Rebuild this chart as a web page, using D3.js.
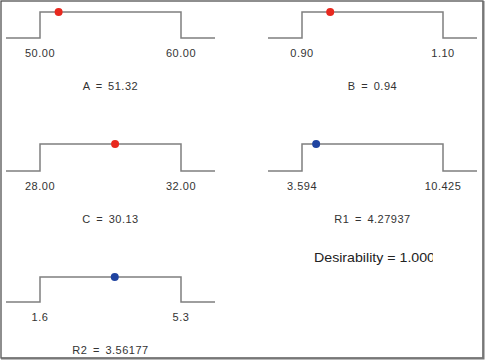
<!DOCTYPE html>
<html>
<head>
<meta charset="utf-8">
<script src="https://cdn.jsdelivr.net/npm/d3@7"></script>
<style>
  body { margin: 0; background: #fff; }
  text { font-family: "Liberation Sans", Arial, sans-serif; fill: #333; }
  .lbl { font-size: 11px; letter-spacing: 0.5px; }
</style>
</head>
<body>
<div id="chart"></div>
<script>
// ramps data (factor/response ranges and optimum values)
var names = ["A", "B", "C", "R1", "R2"];
var lows = [50, 0.90, 28, 3.594, 1.6];
var highs = [60, 1.10, 32, 10.425, 5.3];
var lowLabels = ["50.00", "0.90", "28.00", "3.594", "1.6"];
var highLabels = ["60.00", "1.10", "32.00", "10.425", "5.3"];
var values = [51.32, 0.94, 30.13, 4.27937, 3.56177];
var valueLabels = ["51.32", "0.94", "30.13", "4.27937", "3.56177"];
var kinds = ["factor", "factor", "factor", "response", "response"];
var desirability = "1.000";

var width = 485, height = 360;

var svg = d3.select("#chart")
  .append("svg")
    .attr("width", width)
    .attr("height", height);

// outer frame (thin top/left, heavier right/bottom)
svg.append("rect")
    .attr("x", 1).attr("y", 1)
    .attr("width", 482).attr("height", 357)
    .attr("fill", "#fff")
    .attr("stroke", "#444")
    .attr("stroke-width", 1.2);
svg.append("path")
    .attr("d", "M483.5,1V358.5H1")
    .attr("fill", "none")
    .attr("stroke", "#777")
    .attr("stroke-width", 2);

// panel positions: column left edge + row baseline
var cols = [6, 268];
var rows = [{base: 38, top: 12}, {base: 171, top: 144}, {base: 302, top: 277}];
var pad = 34, rampW = 141;

var color = d3.scaleOrdinal()
    .domain(["factor", "response"])
    .range(["#e8281e", "#1f43a0"]);

var line = d3.line();

names.forEach(function(name, i) {
  var col = cols[i % 2], row = rows[Math.floor(i / 2)];

  var x = d3.scaleLinear()
      .domain([lows[i], highs[i]])
      .range([col + pad, col + pad + rampW]);
  var y = d3.scaleLinear()
      .domain([0, 1])
      .range([row.base, row.top]);

  var g = svg.append("g");

  // step-shaped desirability ramp
  var pts = [
    [x(lows[i]) - pad, y(0)],
    [x(lows[i]), y(0)],
    [x(lows[i]), y(1)],
    [x(highs[i]), y(1)],
    [x(highs[i]), y(0)],
    [x(highs[i]) + pad, y(0)]
  ];
  g.append("path")
      .attr("d", line(pts))
      .attr("fill", "none")
      .attr("stroke", "#7f7f7f")
      .attr("stroke-width", 1.5);

  g.append("circle")
      .attr("cx", x(values[i]))
      .attr("cy", y(1))
      .attr("r", 4)
      .attr("fill", color(kinds[i]));

  g.append("text")
      .attr("class", "lbl")
      .attr("x", x(lows[i]))
      .attr("y", row.base + 18.5)
      .attr("text-anchor", "middle")
      .text(lowLabels[i]);
  g.append("text")
      .attr("class", "lbl")
      .attr("x", x(highs[i]))
      .attr("y", row.base + 18.5)
      .attr("text-anchor", "middle")
      .text(highLabels[i]);

  g.append("text")
      .attr("class", "lbl")
      .attr("x", (x(lows[i]) + x(highs[i])) / 2)
      .attr("y", row.base + 51.5)
      .attr("text-anchor", "middle")
      .style("word-spacing", "2px")
      .text(name + " = " + valueLabels[i]);
});

// overall desirability (last glyph is cut off in the original)
svg.append("clipPath")
    .attr("id", "dclip")
  .append("rect")
    .attr("x", 300).attr("y", 240)
    .attr("width", 133).attr("height", 30);

svg.append("text")
    .attr("x", 314)
    .attr("y", 262)
    .attr("clip-path", "url(#dclip)")
    .attr("textLength", 121)
    .attr("lengthAdjust", "spacingAndGlyphs")
    .style("font-size", "13.5px")
    .style("fill", "#222")
    .text("Desirability = " + desirability);
</script>
</body>
</html>
